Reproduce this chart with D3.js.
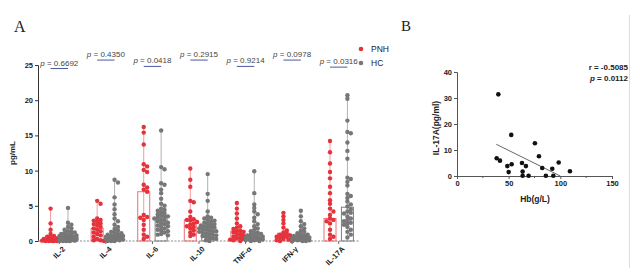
<!DOCTYPE html>
<html><head><meta charset="utf-8">
<script src="https://cdn.jsdelivr.net/npm/d3@7"></script>
<style>
body{margin:0;background:#fff}
svg{display:block;font-family:"Liberation Sans",Arial,sans-serif}
</style>
</head><body>
<svg id="c" width="640" height="275"></svg>
<script>
// ---------------- Panel A data ----------------
const categories = ["IL-2","IL-4","IL-6","IL-10","TNF-α","IFN-γ","IL-17A"];
const groups = ["PNH","HC"];
const pValues = ["0.6692","0.4350","0.0418","0.2915","0.9214","0.0978","0.0316"];
const pBarLevel = [24.5,25.7,24.8,25.7,24.8,25.7,24.7];
const yTicksA = [0,5,10,15,20,25];
const pnhBar = [0.3,1.8,7.0,3.0,1.4,1.1,3.2];
const hcBar  = [0.4,0.6,3.3,2.0,0.6,0.4,4.8];

const pnhIL2 = [4.6,2.5,1.6,1.0,0.7,0.5,0.4,0.3,0.2,0.2,0.1,0.1,0,0,0,0,0,0.05,0.3,0.6];
const hcIL2  = [4.7,2.6,2.3,2.0,1.8,1.6,1.4,1.2,1.1,1.0,0.9,0.8,0.7,0.6,0.6,0.5,0.5,0.4,0.4,0.3,0.3,0.3,0.2,0.2,0.2,0.1,0.1,0.1,0,0,0,0,0.05,0.15,0.25,0.35,0.45,0.7,0.9,1.3];
const pnhIL4 = [5.7,5.3,3.2,3.0,2.9,2.7,2.5,2.2,2.0,1.8,1.6,1.4,1.2,1.0,0.8,0.6,0.3,0.1,0,0.1,2.4];
const hcIL4  = [8.7,8.3,6.2,5.2,4.5,3.8,3.2,2.8,2.3,2.0,1.7,1.5,1.3,1.1,1.0,0.9,0.8,0.7,0.6,0.5,0.5,0.4,0.4,0.3,0.3,0.2,0.2,0.1,0.1,0,0,0,0.6,0.8,1.2,0.35,0.45];
const pnhIL6 = [16.2,15.4,13.7,10.9,10.6,10.1,9.8,8.0,7.6,7.3,3.7,3.4,3.3,3.0,2.3,1.6,0.9,0.6,0.3,7.0];
const hcIL6  = [15.7,10.5,10.2,8.2,8.0,7.3,6.8,5.3,4.6,4.3,4.1,3.8,3.6,3.4,3.2,3.0,2.8,2.6,2.4,2.2,2.0,1.8,1.5,1.2,1.0,0.8,4.4,3.9,3.5,2.9,2.5,1.6,5.0,6.0,3.3,2.1,1.4,0.9];
const pnhIL10 = [10.3,8.7,7.7,5.7,5.5,4.2,3.4,3.0,2.9,2.7,2.5,2.3,2.0,1.8,1.5,1.2,0.9,0.7,3.1,2.1];
const hcIL10  = [9.5,6.7,5.7,4.2,3.5,3.3,3.0,2.8,2.6,2.4,2.2,2.0,1.9,1.8,1.6,1.5,1.4,1.3,1.2,1.0,0.9,0.8,0.6,0.5,0.3,0.1,0,2.9,2.5,2.1,1.7,1.1,0.7,3.2,1.9,1.4,0.4,2.3];
const pnhTNF = [5.4,4.6,3.9,3.2,2.5,2.1,1.9,1.7,1.5,1.3,1.2,1.0,0.9,0.8,0.6,0.5,0.4,0.3,0.2,0.1,0,1.4];
const hcTNF  = [9.9,6.8,5.2,4.7,4.2,3.8,3.3,2.8,2.4,2.1,1.8,1.6,1.4,1.2,1.0,0.9,0.8,0.7,0.6,0.5,0.4,0.3,0.3,0.2,0.2,0.1,0.1,0,0,0.5,0.4,1.1,0.6];
const pnhIFN = [4.0,3.5,3.0,2.5,1.9,1.5,1.2,1.0,0.9,0.8,0.7,0.6,0.5,0.4,0.3,0.2,0.1,0,0,0.6];
const hcIFN  = [4.3,3.5,2.8,2.4,2.1,1.8,1.5,1.3,1.1,1.0,0.9,0.8,0.7,0.6,0.5,0.5,0.4,0.4,0.3,0.3,0.2,0.2,0.1,0.1,0,0,0,0.6,0.35,0.15];
const pnhIL17A = [14.2,12.6,11.0,9.8,8.9,7.7,6.8,5.8,5.3,4.6,4.2,3.7,3.2,2.5,1.6,0.9,0.3,2.8,0.6,3.0];
const hcIL17A  = [20.7,20.2,17.1,15.5,15.3,14.0,12.8,11.7,9.0,8.8,8.4,7.9,6.7,6.1,5.6,4.9,4.5,4.2,3.9,3.5,3.2,2.8,2.5,2.3,2.0,1.6,1.3,0.9,0.5,5.2,3.0,4.0,6.4,2.6];

const pnhValues = [pnhIL2,pnhIL4,pnhIL6,pnhIL10,pnhTNF,pnhIFN,pnhIL17A];
const hcValues  = [hcIL2,hcIL4,hcIL6,hcIL10,hcTNF,hcIFN,hcIL17A];

// ---------------- Panel B data ----------------
const hb    = [40,38.4,41.6,48.7,50,52.9,52.5,62.9,63.5,63.5,66.7,69.3,75.4,79.3,82.5,86,92.2,93.2,98.4,109.3];
const il17a = [31.4,6.8,5.9,3.8,1.5,4.5,15.8,5.0,1.7,0.1,3.8,0.1,12.6,7.6,3.1,0.1,2.8,0.1,5.2,1.8];
const fitHb = [38,100];
const fitIL17A = [12.2,0];
const xTicksB = [0,50,100,150];
const xMinorB = [25,75,125];
const yTicksB = [0,10,20,30,40];
const statR = "-0.5085";
const statP = "0.0112";

// ---------------- drawing ----------------
const svg = d3.select("#c");
const RED = "#e5323b", GRAY = "#777777";
const SANS = "'Liberation Sans',Arial,sans-serif";
const SERIF = "'Liberation Serif','Times New Roman',serif";

// Panel A scales
const yA = d3.scaleLinear().domain([0,25]).range([241,65]);
const xA = d3.scaleBand().domain(categories).range([36,362]);
const sub = d3.scalePoint().domain(groups).range([-8.7,8.7]);
const cx = (c) => xA(c) + xA.bandwidth()/2;

svg.append("text").attr("x",14).attr("y",32).style("font-family",SERIF)
  .attr("font-size",16).attr("fill","#222").text("A");

// y axis
const gy = svg.append("g").attr("transform","translate(38,0)")
  .call(d3.axisLeft(yA).tickValues(yTicksA).tickSize(3).tickPadding(2));
gy.select(".domain").attr("stroke","#333");
gy.selectAll(".tick line").attr("stroke","#333");
gy.selectAll(".tick text").attr("font-size",7.5).attr("font-weight","bold").attr("fill","#222").attr("font-family",SANS);

svg.append("text").attr("transform","translate(15,153) rotate(-90)").attr("text-anchor","middle")
  .attr("font-size",8).attr("font-weight","bold").attr("fill","#222").text("pg/mL");

// x axis
const gx = svg.append("g").attr("transform","translate(0,241)")
  .call(d3.axisBottom(xA).tickSize(3).tickPadding(2));
gx.select(".domain").remove();
gx.selectAll(".tick line").attr("stroke","#666");
gx.selectAll(".tick text").attr("font-size",7.5).attr("font-weight","bold").attr("fill","#222").attr("font-family",SANS)
  .attr("text-anchor","end").attr("transform","translate(2,2) rotate(-45)").attr("dy","0.35em").attr("dx","-0.2em");
svg.append("line").attr("x1",38).attr("x2",360).attr("y1",241).attr("y2",241)
  .attr("stroke","#888").attr("stroke-width",1).attr("stroke-dasharray","2,1.5");

// beeswarm-like layout
function layout(vals, center){
  const sorted = vals.slice().sort((a,b)=>b-a);
  const placed = [];
  const minD = 3.4, step = 1.7, maxK = 5;
  sorted.forEach(v=>{
    const py = yA(v);
    let best = null, bestScore = -1;
    for(let k=0;k<=maxK*2;k++){
      const off = (k%2===1 ? 1 : -1) * Math.ceil(k/2) * step;
      const px = center + off;
      let md = Infinity;
      placed.forEach(p=>{ const d=Math.hypot(p.x-px,p.y-py); if(d<md) md=d; });
      if(md>=minD){ best=px; break; }
      if(md>bestScore){ bestScore=md; best=px; }
    }
    placed.push({x:best,y:py,v:v});
  });
  return placed;
}

const gA = svg.append("g");
categories.forEach((c,i)=>{
  const sets = [
    {g:"PNH", vals:pnhValues[i], bar:pnhBar[i], dot:RED, box:"#ee6f76", wh:"#f39aa0"},
    {g:"HC",  vals:hcValues[i],  bar:hcBar[i],  dot:GRAY, box:"#7d7d7d", wh:"#b0b0b0"}
  ];
  sets.forEach(s=>{
    const x = cx(c) + sub(s.g);
    gA.append("line").attr("x1",x).attr("x2",x)
      .attr("y1",yA(d3.min(s.vals))).attr("y2",yA(d3.max(s.vals)))
      .attr("stroke",s.wh).attr("stroke-width",1);
    gA.append("rect").attr("x",x-6).attr("width",12).attr("y",yA(s.bar)).attr("height",yA(0)-yA(s.bar))
      .attr("fill","none").attr("stroke",s.box).attr("stroke-width",1);
    layout(s.vals, x).forEach(p=>{
      gA.append("circle").attr("cx",p.x).attr("cy",p.y).attr("r",2.2).attr("fill",s.dot);
    });
  });
  // p-value bar and text
  const x1 = cx(c)+sub("PNH"), x2 = cx(c)+sub("HC");
  const by = yA(pBarLevel[i]);
  gA.append("line").attr("x1",x1).attr("x2",x2).attr("y1",by).attr("y2",by)
    .attr("stroke","#4b5a9c").attr("stroke-width",1);
  const t = gA.append("text").attr("x",cx(c)).attr("y",by-3).attr("text-anchor","middle")
    .attr("font-size",8).attr("fill","#444");
  t.append("tspan").attr("font-style","italic").text("p");
  t.append("tspan").text(" = " + pValues[i]);
});

// legend
const leg = svg.append("g");
groups.forEach((g,i)=>{
  const y = 49 + i*14;
  leg.append("circle").attr("cx",361).attr("cy",y).attr("r",2.3).attr("fill", i===0?RED:GRAY);
  leg.append("text").attr("x",371).attr("y",y+3.2).attr("font-size",8.5).attr("fill","#222").text(g);
});

// ---------------- Panel B ----------------
svg.append("text").attr("x",401).attr("y",31).style("font-family",SERIF)
  .attr("font-size",15).attr("fill","#222").text("B");

const xB = d3.scaleLinear().domain([0,150]).range([457,612]);
const yB = d3.scaleLinear().domain([0,40]).range([176,72]);

const gxB = svg.append("g").attr("transform","translate(0,176)")
  .call(d3.axisBottom(xB).tickValues(xTicksB).tickSize(3).tickPadding(2));
gxB.select(".domain").attr("stroke","#555");
gxB.selectAll(".tick line").attr("stroke","#555");
gxB.selectAll(".tick text").attr("font-size",7.5).attr("font-weight","bold").attr("fill","#222").attr("font-family",SANS);
svg.append("g").selectAll("line").data(xMinorB).join("line")
  .attr("x1",d=>xB(d)).attr("x2",d=>xB(d)).attr("y1",176).attr("y2",178).attr("stroke","#555");

const gyB = svg.append("g").attr("transform","translate(457,0)")
  .call(d3.axisLeft(yB).tickValues(yTicksB).tickSize(3).tickPadding(2));
gyB.select(".domain").attr("stroke","#555");
gyB.selectAll(".tick line").attr("stroke","#555");
gyB.selectAll(".tick text").attr("font-size",7.5).attr("font-weight","bold").attr("fill","#222").attr("font-family",SANS);

svg.append("text").attr("x",535).attr("y",202).attr("text-anchor","middle")
  .attr("font-size",8.5).attr("font-weight","bold").attr("fill","#222").text("Hb(g/L)");
svg.append("text").attr("transform","translate(439,128) rotate(-90)").attr("text-anchor","middle")
  .attr("font-size",8.5).attr("font-weight","bold").attr("fill","#222").text("IL-17A(pg/ml)");

svg.append("line").attr("x1",xB(fitHb[0])).attr("x2",xB(fitHb[1]))
  .attr("y1",yB(fitIL17A[0])).attr("y2",yB(fitIL17A[1]))
  .attr("stroke","#555").attr("stroke-width",0.9);

svg.append("g").selectAll("circle").data(hb.map((h,i)=>[h,il17a[i]])).join("circle")
  .attr("cx",d=>xB(d[0])).attr("cy",d=>yB(d[1])).attr("r",2.3).attr("fill","#111");

svg.append("text").attr("x",628).attr("y",70).attr("text-anchor","end")
  .attr("font-size",8).attr("font-weight","bold").attr("fill","#222").text("r = " + statR);
const tp = svg.append("text").attr("x",628).attr("y",81).attr("text-anchor","end")
  .attr("font-size",8).attr("font-weight","bold").attr("fill","#222");
tp.append("tspan").attr("font-style","italic").text("p");
tp.append("tspan").text(" = " + statP);

// faint right border line
svg.append("line").attr("x1",629.5).attr("x2",629.5).attr("y1",15).attr("y2",268)
  .attr("stroke","#dedede").attr("stroke-width",1);
</script>
</body></html>
